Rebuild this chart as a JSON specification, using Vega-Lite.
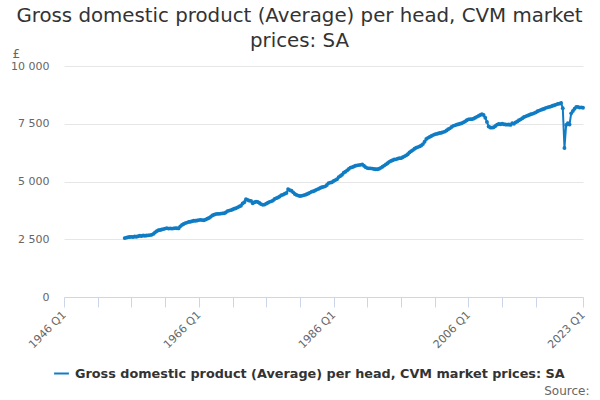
{
  "$schema": "https://vega.github.io/schema/vega-lite/v6.json",
  "autosize": {"type": "none"},
  "padding": {"left": 64, "top": 66, "right": 17, "bottom": 103},
  "width": 519,
  "height": 231,
  "background": "white",
  "config": {
    "font": "DejaVu Sans",
    "view": {"stroke": null}
  },
  "title": {
    "text": ["Gross domestic product (Average) per head, CVM market", "prices: SA"],
    "fontSize": 19.8,
    "fontWeight": "normal",
    "color": "#333333",
    "anchor": "middle",
    "dx": -24,
    "dy": 20,
    "lineHeight": 25,
    "offset": 16
  },
  "data": {
    "values": [
      {"t": 1955.0, "v": 2550}, {"t": 1955.25, "v": 2570}, {"t": 1955.5, "v": 2590}, {"t": 1955.75, "v": 2600},
      {"t": 1956.0, "v": 2605}, {"t": 1956.25, "v": 2600}, {"t": 1956.5, "v": 2620}, {"t": 1956.75, "v": 2610},
      {"t": 1957.0, "v": 2630}, {"t": 1957.25, "v": 2650}, {"t": 1957.5, "v": 2640}, {"t": 1957.75, "v": 2660},
      {"t": 1958.0, "v": 2650}, {"t": 1958.25, "v": 2660}, {"t": 1958.5, "v": 2670}, {"t": 1958.75, "v": 2680},
      {"t": 1959.0, "v": 2690}, {"t": 1959.25, "v": 2730}, {"t": 1959.5, "v": 2790}, {"t": 1959.75, "v": 2850},
      {"t": 1960.0, "v": 2890}, {"t": 1960.25, "v": 2900}, {"t": 1960.5, "v": 2920}, {"t": 1960.75, "v": 2940},
      {"t": 1961.0, "v": 2960}, {"t": 1961.25, "v": 2980}, {"t": 1961.5, "v": 2960}, {"t": 1961.75, "v": 2970},
      {"t": 1962.0, "v": 2960}, {"t": 1962.25, "v": 2970}, {"t": 1962.5, "v": 2980}, {"t": 1962.75, "v": 2975},
      {"t": 1963.0, "v": 2970}, {"t": 1963.25, "v": 3060}, {"t": 1963.5, "v": 3120}, {"t": 1963.75, "v": 3160},
      {"t": 1964.0, "v": 3200}, {"t": 1964.25, "v": 3220}, {"t": 1964.5, "v": 3250}, {"t": 1964.75, "v": 3260},
      {"t": 1965.0, "v": 3280}, {"t": 1965.25, "v": 3300}, {"t": 1965.5, "v": 3300}, {"t": 1965.75, "v": 3310},
      {"t": 1966.0, "v": 3330}, {"t": 1966.25, "v": 3340}, {"t": 1966.5, "v": 3330}, {"t": 1966.75, "v": 3320},
      {"t": 1967.0, "v": 3350}, {"t": 1967.25, "v": 3390}, {"t": 1967.5, "v": 3420}, {"t": 1967.75, "v": 3470},
      {"t": 1968.0, "v": 3530}, {"t": 1968.25, "v": 3560}, {"t": 1968.5, "v": 3590}, {"t": 1968.75, "v": 3600},
      {"t": 1969.0, "v": 3600}, {"t": 1969.25, "v": 3610}, {"t": 1969.5, "v": 3620}, {"t": 1969.75, "v": 3625},
      {"t": 1970.0, "v": 3660}, {"t": 1970.25, "v": 3720}, {"t": 1970.5, "v": 3740}, {"t": 1970.75, "v": 3760},
      {"t": 1971.0, "v": 3790}, {"t": 1971.25, "v": 3820}, {"t": 1971.5, "v": 3840}, {"t": 1971.75, "v": 3880},
      {"t": 1972.0, "v": 3920}, {"t": 1972.25, "v": 3950}, {"t": 1972.5, "v": 4050}, {"t": 1972.75, "v": 4100},
      {"t": 1973.0, "v": 4230}, {"t": 1973.25, "v": 4200}, {"t": 1973.5, "v": 4170}, {"t": 1973.75, "v": 4160},
      {"t": 1974.0, "v": 4060}, {"t": 1974.25, "v": 4100}, {"t": 1974.5, "v": 4130}, {"t": 1974.75, "v": 4110},
      {"t": 1975.0, "v": 4070}, {"t": 1975.25, "v": 4020}, {"t": 1975.5, "v": 3990}, {"t": 1975.75, "v": 4000},
      {"t": 1976.0, "v": 4040}, {"t": 1976.25, "v": 4080}, {"t": 1976.5, "v": 4120}, {"t": 1976.75, "v": 4140},
      {"t": 1977.0, "v": 4180}, {"t": 1977.25, "v": 4240}, {"t": 1977.5, "v": 4280}, {"t": 1977.75, "v": 4310},
      {"t": 1978.0, "v": 4350}, {"t": 1978.25, "v": 4410}, {"t": 1978.5, "v": 4430}, {"t": 1978.75, "v": 4470},
      {"t": 1979.0, "v": 4500}, {"t": 1979.25, "v": 4670}, {"t": 1979.5, "v": 4620}, {"t": 1979.75, "v": 4600},
      {"t": 1980.0, "v": 4530}, {"t": 1980.25, "v": 4460}, {"t": 1980.5, "v": 4420}, {"t": 1980.75, "v": 4390},
      {"t": 1981.0, "v": 4370}, {"t": 1981.25, "v": 4380}, {"t": 1981.5, "v": 4400}, {"t": 1981.75, "v": 4420},
      {"t": 1982.0, "v": 4450}, {"t": 1982.25, "v": 4480}, {"t": 1982.5, "v": 4520}, {"t": 1982.75, "v": 4560},
      {"t": 1983.0, "v": 4580}, {"t": 1983.25, "v": 4610}, {"t": 1983.5, "v": 4650}, {"t": 1983.75, "v": 4680},
      {"t": 1984.0, "v": 4720}, {"t": 1984.25, "v": 4750}, {"t": 1984.5, "v": 4770}, {"t": 1984.75, "v": 4790},
      {"t": 1985.0, "v": 4850}, {"t": 1985.25, "v": 4930}, {"t": 1985.5, "v": 4950}, {"t": 1985.75, "v": 4970},
      {"t": 1986.0, "v": 5020}, {"t": 1986.25, "v": 5060}, {"t": 1986.5, "v": 5100}, {"t": 1986.75, "v": 5190},
      {"t": 1987.0, "v": 5240}, {"t": 1987.25, "v": 5290}, {"t": 1987.5, "v": 5380}, {"t": 1987.75, "v": 5420},
      {"t": 1988.0, "v": 5480}, {"t": 1988.25, "v": 5540}, {"t": 1988.5, "v": 5600}, {"t": 1988.75, "v": 5620},
      {"t": 1989.0, "v": 5650}, {"t": 1989.25, "v": 5680}, {"t": 1989.5, "v": 5700}, {"t": 1989.75, "v": 5710},
      {"t": 1990.0, "v": 5720}, {"t": 1990.25, "v": 5740}, {"t": 1990.5, "v": 5680}, {"t": 1990.75, "v": 5620},
      {"t": 1991.0, "v": 5580}, {"t": 1991.25, "v": 5570}, {"t": 1991.5, "v": 5570}, {"t": 1991.75, "v": 5560},
      {"t": 1992.0, "v": 5540}, {"t": 1992.25, "v": 5530}, {"t": 1992.5, "v": 5530}, {"t": 1992.75, "v": 5550},
      {"t": 1993.0, "v": 5590}, {"t": 1993.25, "v": 5640}, {"t": 1993.5, "v": 5690}, {"t": 1993.75, "v": 5740},
      {"t": 1994.0, "v": 5790}, {"t": 1994.25, "v": 5850}, {"t": 1994.5, "v": 5890}, {"t": 1994.75, "v": 5920},
      {"t": 1995.0, "v": 5950}, {"t": 1995.25, "v": 5960}, {"t": 1995.5, "v": 5990}, {"t": 1995.75, "v": 6010},
      {"t": 1996.0, "v": 6010}, {"t": 1996.25, "v": 6050}, {"t": 1996.5, "v": 6090}, {"t": 1996.75, "v": 6130},
      {"t": 1997.0, "v": 6180}, {"t": 1997.25, "v": 6260}, {"t": 1997.5, "v": 6310}, {"t": 1997.75, "v": 6360},
      {"t": 1998.0, "v": 6420}, {"t": 1998.25, "v": 6460}, {"t": 1998.5, "v": 6490}, {"t": 1998.75, "v": 6520},
      {"t": 1999.0, "v": 6560}, {"t": 1999.25, "v": 6620}, {"t": 1999.5, "v": 6720}, {"t": 1999.75, "v": 6840},
      {"t": 2000.0, "v": 6890}, {"t": 2000.25, "v": 6930}, {"t": 2000.5, "v": 6970}, {"t": 2000.75, "v": 7010},
      {"t": 2001.0, "v": 7040}, {"t": 2001.25, "v": 7060}, {"t": 2001.5, "v": 7080}, {"t": 2001.75, "v": 7100},
      {"t": 2002.0, "v": 7110}, {"t": 2002.25, "v": 7140}, {"t": 2002.5, "v": 7160}, {"t": 2002.75, "v": 7210},
      {"t": 2003.0, "v": 7260}, {"t": 2003.25, "v": 7300}, {"t": 2003.5, "v": 7360}, {"t": 2003.75, "v": 7410},
      {"t": 2004.0, "v": 7430}, {"t": 2004.25, "v": 7460}, {"t": 2004.5, "v": 7480}, {"t": 2004.75, "v": 7500},
      {"t": 2005.0, "v": 7520}, {"t": 2005.25, "v": 7560}, {"t": 2005.5, "v": 7600}, {"t": 2005.75, "v": 7650},
      {"t": 2006.0, "v": 7690}, {"t": 2006.25, "v": 7700}, {"t": 2006.5, "v": 7700}, {"t": 2006.75, "v": 7720},
      {"t": 2007.0, "v": 7760}, {"t": 2007.25, "v": 7800}, {"t": 2007.5, "v": 7840}, {"t": 2007.75, "v": 7880},
      {"t": 2008.0, "v": 7910}, {"t": 2008.25, "v": 7880}, {"t": 2008.5, "v": 7760}, {"t": 2008.75, "v": 7580},
      {"t": 2009.0, "v": 7380}, {"t": 2009.25, "v": 7340}, {"t": 2009.5, "v": 7330}, {"t": 2009.75, "v": 7350},
      {"t": 2010.0, "v": 7400}, {"t": 2010.25, "v": 7460}, {"t": 2010.5, "v": 7490}, {"t": 2010.75, "v": 7480},
      {"t": 2011.0, "v": 7500}, {"t": 2011.25, "v": 7480}, {"t": 2011.5, "v": 7470}, {"t": 2011.75, "v": 7460},
      {"t": 2012.0, "v": 7470}, {"t": 2012.25, "v": 7450}, {"t": 2012.5, "v": 7520}, {"t": 2012.75, "v": 7500},
      {"t": 2013.0, "v": 7560}, {"t": 2013.25, "v": 7600}, {"t": 2013.5, "v": 7650}, {"t": 2013.75, "v": 7690},
      {"t": 2014.0, "v": 7740}, {"t": 2014.25, "v": 7790}, {"t": 2014.5, "v": 7820}, {"t": 2014.75, "v": 7850},
      {"t": 2015.0, "v": 7880}, {"t": 2015.25, "v": 7910}, {"t": 2015.5, "v": 7930}, {"t": 2015.75, "v": 7960},
      {"t": 2016.0, "v": 7990}, {"t": 2016.25, "v": 8040}, {"t": 2016.5, "v": 8070}, {"t": 2016.75, "v": 8100},
      {"t": 2017.0, "v": 8130}, {"t": 2017.25, "v": 8150}, {"t": 2017.5, "v": 8190}, {"t": 2017.75, "v": 8210},
      {"t": 2018.0, "v": 8230}, {"t": 2018.25, "v": 8250}, {"t": 2018.5, "v": 8280}, {"t": 2018.75, "v": 8300},
      {"t": 2019.0, "v": 8330}, {"t": 2019.25, "v": 8360}, {"t": 2019.5, "v": 8370}, {"t": 2019.75, "v": 8400},
      {"t": 2020.0, "v": 8170}, {"t": 2020.25, "v": 6450}, {"t": 2020.5, "v": 7450}, {"t": 2020.75, "v": 7520},
      {"t": 2021.0, "v": 7470}, {"t": 2021.25, "v": 7950}, {"t": 2021.5, "v": 8050}, {"t": 2021.75, "v": 8150},
      {"t": 2022.0, "v": 8230}, {"t": 2022.25, "v": 8230}, {"t": 2022.5, "v": 8200}, {"t": 2022.75, "v": 8210},
      {"t": 2023.0, "v": 8195}
    ]
  },
  "mark": {
    "type": "line",
    "strokeWidth": 2,
    "point": {"filled": true, "size": 15, "color": "#0f7cc4"},
    "clip": false
  },
  "encoding": {
    "x": {
      "field": "t",
      "type": "quantitative",
      "scale": {"domain": [1946, 2023], "nice": false, "zero": false},
      "axis": {
        "title": "Source:",
        "titleX": 525,
        "titleY": 93,
        "titleAlign": "right",
        "titleAnchor": null,
        "titleBaseline": "middle",
        "titleFontSize": 12,
        "titleFontWeight": "normal",
        "titleColor": "#666666",
        "values": [1946, 1951, 1956, 1961, 1966, 1971, 1976, 1981, 1986, 1991, 1996, 2001, 2006, 2011, 2016, 2023],
        "labelExpr": "indexof([1946, 1966, 1986, 2006, 2023], datum.value) >= 0 ? datum.value + ' Q1' : ''",
        "labelAngle": 315,
        "labelAlign": "right",
        "labelBaseline": "middle",
        "labelFontSize": 11,
        "labelColor": "#666666",
        "labelPadding": 6,
        "labelOverlap": false,
        "labelFlush": false,
        "grid": false,
        "domainColor": "#ccd6eb",
        "tickColor": "#ccd6eb",
        "tickSize": 10
      }
    },
    "y": {
      "field": "v",
      "type": "quantitative",
      "scale": {"domain": [0, 10000], "nice": false},
      "axis": {
        "title": "£",
        "titleAngle": 0,
        "titleX": -52,
        "titleY": -13,
        "titleAlign": "left",
        "titleAnchor": null,
        "titleBaseline": "middle",
        "titleFontSize": 12,
        "titleFontWeight": "normal",
        "titleColor": "#666666",
        "values": [0, 2500, 5000, 7500, 10000],
        "labelExpr": "replace(format(datum.value, ','), ',', ' ')",
        "labelFontSize": 11,
        "labelColor": "#666666",
        "labelPadding": 15,
        "domain": false,
        "ticks": false,
        "gridColor": "#e6e6e6"
      }
    },
    "color": {
      "datum": "Gross domestic product (Average) per head, CVM market prices: SA",
      "type": "nominal",
      "scale": {"range": ["#0f7cc4"]},
      "legend": {
        "title": null,
        "orient": "none",
        "legendX": -11,
        "legendY": 299,
        "direction": "horizontal",
        "labelFontSize": 12.8,
        "labelFontWeight": "bold",
        "labelColor": "#333333",
        "labelLimit": 600,
        "symbolType": "stroke",
        "symbolSize": 220,
        "symbolStrokeWidth": 2,
        "labelOffset": 5
      }
    }
  }
}
